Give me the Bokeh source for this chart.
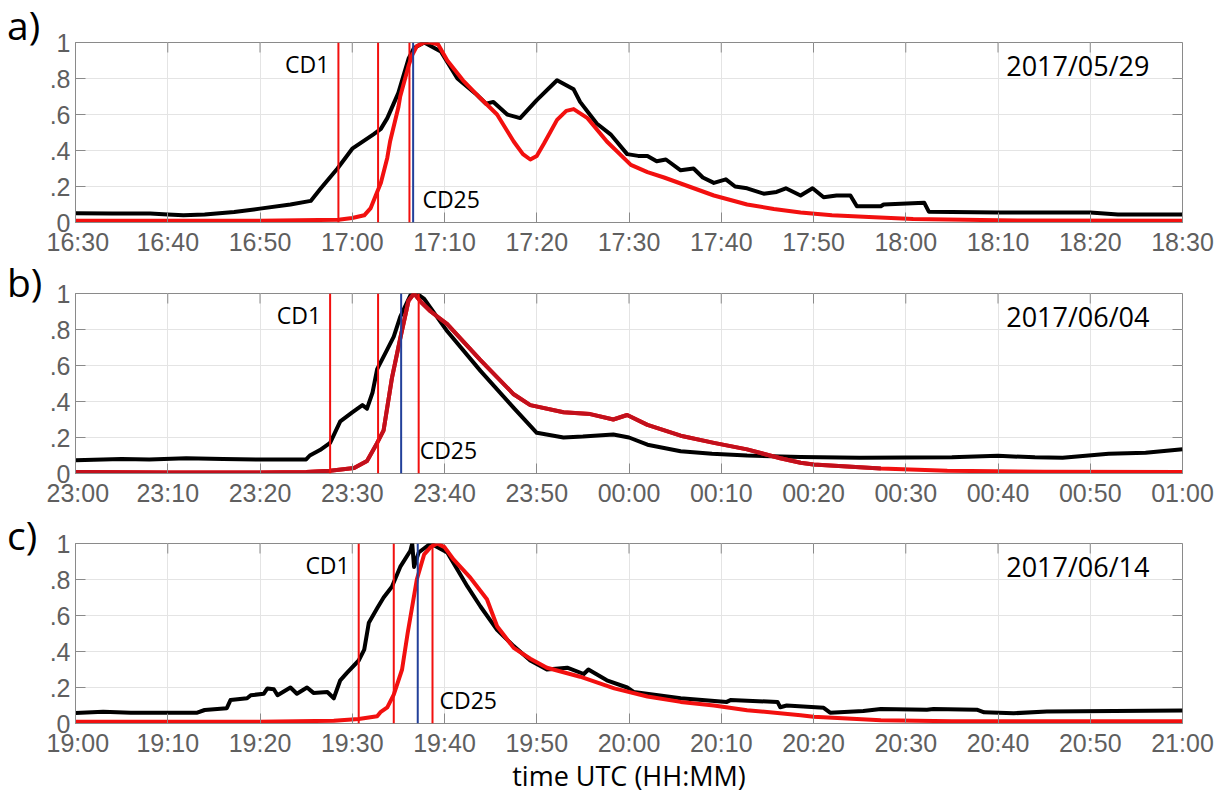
from bokeh.plotting import figure
from bokeh.layouts import column, row
from bokeh.models import Range1d, FixedTicker, Span, Label, Div
from bokeh.embed import file_html
from bokeh.resources import INLINE

# ---------------- data ----------------
X_TICKS = list(range(0, 121, 10))          # minutes after panel start
Y_TICKS = [0, 0.2, 0.4, 0.6, 0.8, 1.0]
Y_LABELS = ["0", ".2", ".4", ".6", ".8", "1"]

a_xlabels = ["16:30", "16:40", "16:50", "17:00", "17:10", "17:20", "17:30",
             "17:40", "17:50", "18:00", "18:10", "18:20", "18:30"]
b_xlabels = ["23:00", "23:10", "23:20", "23:30", "23:40", "23:50", "00:00",
             "00:10", "00:20", "00:30", "00:40", "00:50", "01:00"]
c_xlabels = ["19:00", "19:10", "19:20", "19:30", "19:40", "19:50", "20:00",
             "20:10", "20:20", "20:30", "20:40", "20:50", "21:00"]

a_date = "2017/05/29"
b_date = "2017/06/04"
c_date = "2017/06/14"
x_title = "time UTC (HH:MM)"

# panel a
a_black_t = [0, 4, 8.1, 10, 11.7, 14, 17.2, 20, 23.3, 25.5, 26.6, 28.4, 30.0, 32.3, 33.1, 33.8, 35, 36.1,
             36.7, 37.8, 39.6, 41.4, 43.5, 44.5, 45.3, 46.8, 48.2, 50, 52.2, 54, 54.7, 56.5, 58, 58.5,
             59.8, 61, 62, 63, 64, 65.6, 67, 68, 69.2, 70.5, 71.5, 72.8, 74.6, 76, 77, 78.6, 79.9,
             81.1, 82.5, 84, 84.7, 87.3, 87.6, 92, 92.5, 100, 110, 113, 120]
a_black_v = [0.052, 0.05, 0.05, 0.045, 0.04, 0.045, 0.058, 0.077, 0.10, 0.12, 0.19, 0.30, 0.41, 0.49, 0.52, 0.58, 0.72, 0.91,
             0.97, 1.0, 0.95, 0.80, 0.71, 0.66, 0.67, 0.60, 0.58, 0.68, 0.79, 0.74, 0.67, 0.55, 0.49, 0.46,
             0.38, 0.37, 0.37, 0.34, 0.35, 0.29, 0.30, 0.25, 0.22, 0.24, 0.20, 0.19, 0.16, 0.17, 0.19, 0.15, 0.19,
             0.14, 0.15, 0.15, 0.09, 0.09, 0.10, 0.11, 0.06, 0.055, 0.055, 0.045, 0.045]
a_red_t = [0, 20, 28.5, 30, 31.3, 32, 32.7, 33.1, 33.8, 34.1, 35.0, 35.2, 36.1, 36.5, 37.0, 37.8, 38.5, 39.3,
           40.3, 42, 43.9, 45.7, 47.5, 48.5, 49.3, 50, 50.8, 52.2, 53.2, 54, 55.5, 57.6, 60.2, 62, 63.8,
           66.5, 69.2, 72.8, 75.7, 78.6, 82, 86, 90.8, 100, 120]
a_red_v = [0.01, 0.01, 0.015, 0.025, 0.04, 0.08, 0.17, 0.22, 0.36, 0.45, 0.64, 0.70, 0.87, 0.93, 0.98, 1.0, 1.0, 0.99,
           0.90, 0.79, 0.69, 0.60, 0.45, 0.38, 0.35, 0.37, 0.44, 0.57, 0.62, 0.63, 0.58, 0.45, 0.32, 0.28, 0.25,
           0.20, 0.15, 0.10, 0.075, 0.055, 0.04, 0.03, 0.02, 0.012, 0.01]
a_red_lines = [28.5, 32.8, 36.2]
a_blue_line = 36.6

# panel b
b_black_t = [0, 5, 8, 12, 16, 20, 25, 25.4, 26.5, 27.6, 28.7, 30, 31.1, 31.6, 32.2, 32.7, 33.8, 34.5, 35.2,
             36.3, 37, 37.8, 40.3, 43.9, 47.5, 50, 52.9, 55, 58.3, 60, 62, 65.6, 69, 72.8, 78.6, 85,
             95, 100, 104, 107, 112, 116, 120]
b_black_v = [0.074, 0.08, 0.078, 0.085, 0.08, 0.078, 0.078, 0.10, 0.13, 0.17, 0.29, 0.34, 0.38, 0.36, 0.45, 0.58, 0.69, 0.76, 0.87,
             0.99, 1.0, 0.97, 0.79, 0.57, 0.365, 0.226, 0.20, 0.205, 0.217, 0.20, 0.16, 0.124, 0.11, 0.10, 0.092, 0.087,
             0.09, 0.098, 0.09, 0.088, 0.11, 0.115, 0.135]
b_red_t = [0, 10, 20, 25, 27.6, 30.2, 31.6, 32.7, 33.4, 34.3, 35.2, 36.1, 36.7, 37.5, 38.5, 40.3, 43.9, 47.5,
           49.3, 52.9, 55.8, 58.3, 59.8, 62, 65.6, 69.2, 72.8, 76.4, 78.6, 80, 87.3, 94.5, 105, 120]
b_red_v = [0.008, 0.006, 0.005, 0.008, 0.015, 0.03, 0.07, 0.17, 0.24, 0.53, 0.75, 0.96, 1.0, 0.95, 0.90, 0.83, 0.63, 0.44,
           0.38, 0.34, 0.33, 0.30, 0.325, 0.27, 0.21, 0.17, 0.134, 0.085, 0.06, 0.05, 0.028, 0.015, 0.01, 0.008]
b_red_lines = [27.6, 32.8, 37.2]
b_blue_line = 35.3

# panel c
c_black_t = [0, 3, 6, 10, 13.2, 14, 16.4, 16.8, 18.6, 19, 20.4, 20.8, 21.5, 21.9, 23.3, 24, 25.1, 25.8, 27.3,
             28, 28.7, 29.4, 30.7, 31.3, 31.8, 32.7, 33.4, 34.3, 35.2, 36.3, 36.5, 36.7, 37.2, 38.5, 40.3,
             42.5, 43.9, 45.7, 47.5, 49.3, 51.1, 53.3, 55.1, 55.6, 57.6, 59.8, 60.5, 65.6, 70.6, 71, 76.1,
             76.4, 77.1, 81.1, 81.8, 85.4, 87.3, 92.3, 93, 97.7, 98.5, 101.7, 105.3, 120]
c_black_v = [0.059, 0.065, 0.06, 0.06, 0.06, 0.075, 0.085, 0.13, 0.14, 0.157, 0.165, 0.195, 0.19, 0.157, 0.20, 0.165, 0.20, 0.17, 0.175,
             0.14, 0.24, 0.28, 0.35, 0.41, 0.56, 0.64, 0.70, 0.76, 0.87, 0.96, 1.0, 0.87, 0.95, 1.0, 0.95,
             0.76, 0.65, 0.52, 0.43, 0.35, 0.30, 0.31, 0.275, 0.30, 0.24, 0.20, 0.175, 0.14, 0.12, 0.13, 0.12,
             0.09, 0.10, 0.087, 0.06, 0.07, 0.08, 0.077, 0.08, 0.077, 0.062, 0.057, 0.066, 0.072]
c_red_t = [0, 20, 28, 30.7, 32.7, 33.1, 33.8, 34.5, 35.4, 36, 36.5, 37, 37.8, 38.5, 39.2, 40, 41, 42.8, 44.6,
           45.7, 47.5, 49.3, 51.1, 54.7, 58.4, 62, 65.6, 69.2, 72.8, 78.6, 80, 87.3, 95, 120]
c_red_v = [0.01, 0.01, 0.015, 0.025, 0.04, 0.065, 0.09, 0.16, 0.30, 0.50, 0.65, 0.80, 0.94, 0.98, 1.0, 0.98, 0.91, 0.81, 0.69,
           0.54, 0.42, 0.36, 0.31, 0.26, 0.195, 0.15, 0.12, 0.10, 0.074, 0.046, 0.037, 0.018, 0.012, 0.012]
c_red_lines = [30.7, 34.5, 38.7]
c_blue_line = 37.1

# ---------------- styling ----------------
GRAY = "#8a8a8a"
TICK_TXT = "#5f5f5f"
RED = "#f2100f"
DARK_RED = "#c2101c"
BLUE = "#22409a"
TOTAL_W = 1224
DIV_W = 46
FIG_W = TOTAL_W - DIV_W
FRAME_LEFT = 75
FRAME_W = 1107
FRAME_H = 180
TICK_PX = 10


def style_axis(ax):
    ax.axis_line_color = GRAY
    ax.major_tick_line_color = GRAY
    ax.minor_tick_line_color = None
    ax.major_tick_in = TICK_PX
    ax.major_tick_out = 0
    ax.major_label_text_font = "Liberation Sans"
    ax.major_label_text_font_size = "25px"
    ax.major_label_text_color = TICK_TXT


def make_panel(letter, letter_pad, xlabels, date, black_t, black_v, red_t, red_v, red_lines, blue_line,
               height, top, bottom, cd25_off, dark_split=None):
    left = FRAME_LEFT - DIV_W
    p = figure(width=FIG_W, height=height, x_range=Range1d(0, 120), y_range=Range1d(0, 1),
               output_backend="svg", toolbar_location=None,
               min_border_left=left, min_border_right=FIG_W - left - FRAME_W,
               min_border_top=top, min_border_bottom=bottom,
               background_fill_color="white", border_fill_color="white")
    p.outline_line_color = GRAY
    p.outline_line_width = 1

    p.xaxis.ticker = FixedTicker(ticks=X_TICKS)
    p.xaxis.major_label_overrides = {t: s for t, s in zip(X_TICKS, xlabels)}
    p.yaxis.ticker = FixedTicker(ticks=Y_TICKS)
    p.yaxis.major_label_overrides = {t: s for t, s in zip(Y_TICKS, Y_LABELS)}
    style_axis(p.xaxis[0])
    style_axis(p.yaxis[0])
    p.xaxis.major_label_standoff = 5
    p.yaxis.major_label_standoff = 5

    p.xgrid.grid_line_color = "#e4e4e4"
    p.ygrid.grid_line_color = "#e4e4e4"

    # inward ticks on top and right edges (MATLAB box style)
    dy = TICK_PX / FRAME_H
    dx = TICK_PX * 120 / FRAME_W
    p.segment(x0=X_TICKS, y0=[1] * len(X_TICKS), x1=X_TICKS, y1=[1 - dy] * len(X_TICKS),
              line_color=GRAY, line_width=1)
    p.segment(x0=[120] * len(Y_TICKS), y0=Y_TICKS, x1=[120 - dx] * len(Y_TICKS), y1=Y_TICKS,
              line_color=GRAY, line_width=1)

    p.line(black_t, black_v, line_color="black", line_width=4, line_join="round")
    p.line(red_t, red_v, line_color=RED, line_width=4, line_join="round")
    if dark_split is not None:
        n = sum(1 for t in red_t if t <= dark_split)
        p.line(red_t[:n], red_v[:n], line_color=DARK_RED, line_width=4, line_join="round")

    for loc in red_lines:
        p.add_layout(Span(location=loc, dimension="height", line_color=RED, line_width=2))
    p.add_layout(Span(location=blue_line, dimension="height", line_color=BLUE, line_width=2))

    p.add_layout(Label(x=red_lines[0], y=0.88, x_offset=-9, text="CD1", text_align="right",
                       text_baseline="middle", text_font="Open Sans", text_font_size="23px",
                       text_color="black"))
    p.add_layout(Label(x=red_lines[-1], y=0.13, x_offset=cd25_off, text="CD25", text_align="left",
                       text_baseline="middle", text_font="Open Sans", text_font_size="23px",
                       text_color="black"))
    p.add_layout(Label(x=120, y=0.87, x_offset=-33, text=date, text_align="right",
                       text_baseline="middle", text_font="Open Sans", text_font_size="27px",
                       text_color="black"))

    d = Div(text=letter, width=DIV_W, height=height, margin=(0, 0, 0, 0),
            styles={"font-family": "Open Sans", "font-size": "39px", "line-height": "40px",
                    "padding-left": "7px", "padding-top": f"{letter_pad}px", "color": "black",
                    "overflow": "visible", "white-space": "nowrap", "box-sizing": "border-box"})
    return row(d, p, spacing=0)


ra = make_panel("a)", 5, a_xlabels, a_date, a_black_t, a_black_v, a_red_t, a_red_v,
                a_red_lines, a_blue_line, 258, 42, 36, 13)
rb = make_panel("b)", 4, b_xlabels, b_date, b_black_t, b_black_v, b_red_t, b_red_v,
                b_red_lines, b_blue_line, 252, 35, 37, 1, dark_split=88)
rc = make_panel("c)", 5, c_xlabels, c_date, c_black_t, c_black_v, c_red_t, c_red_v,
                c_red_lines, c_blue_line, 249, 33, 36, 7)

xt = Div(text=x_title, width=TOTAL_W, height=31, margin=(0, 0, 0, 0),
         styles={"font-family": "Open Sans", "font-size": "27px", "line-height": "30px",
                 "text-align": "center", "padding-left": "34px", "padding-top": "2px",
                 "box-sizing": "border-box", "color": "black", "overflow": "visible",
                 "white-space": "nowrap"})

layout = column(ra, rb, rc, xt, spacing=0)
open("out.html", "w").write(file_html(layout, INLINE))
